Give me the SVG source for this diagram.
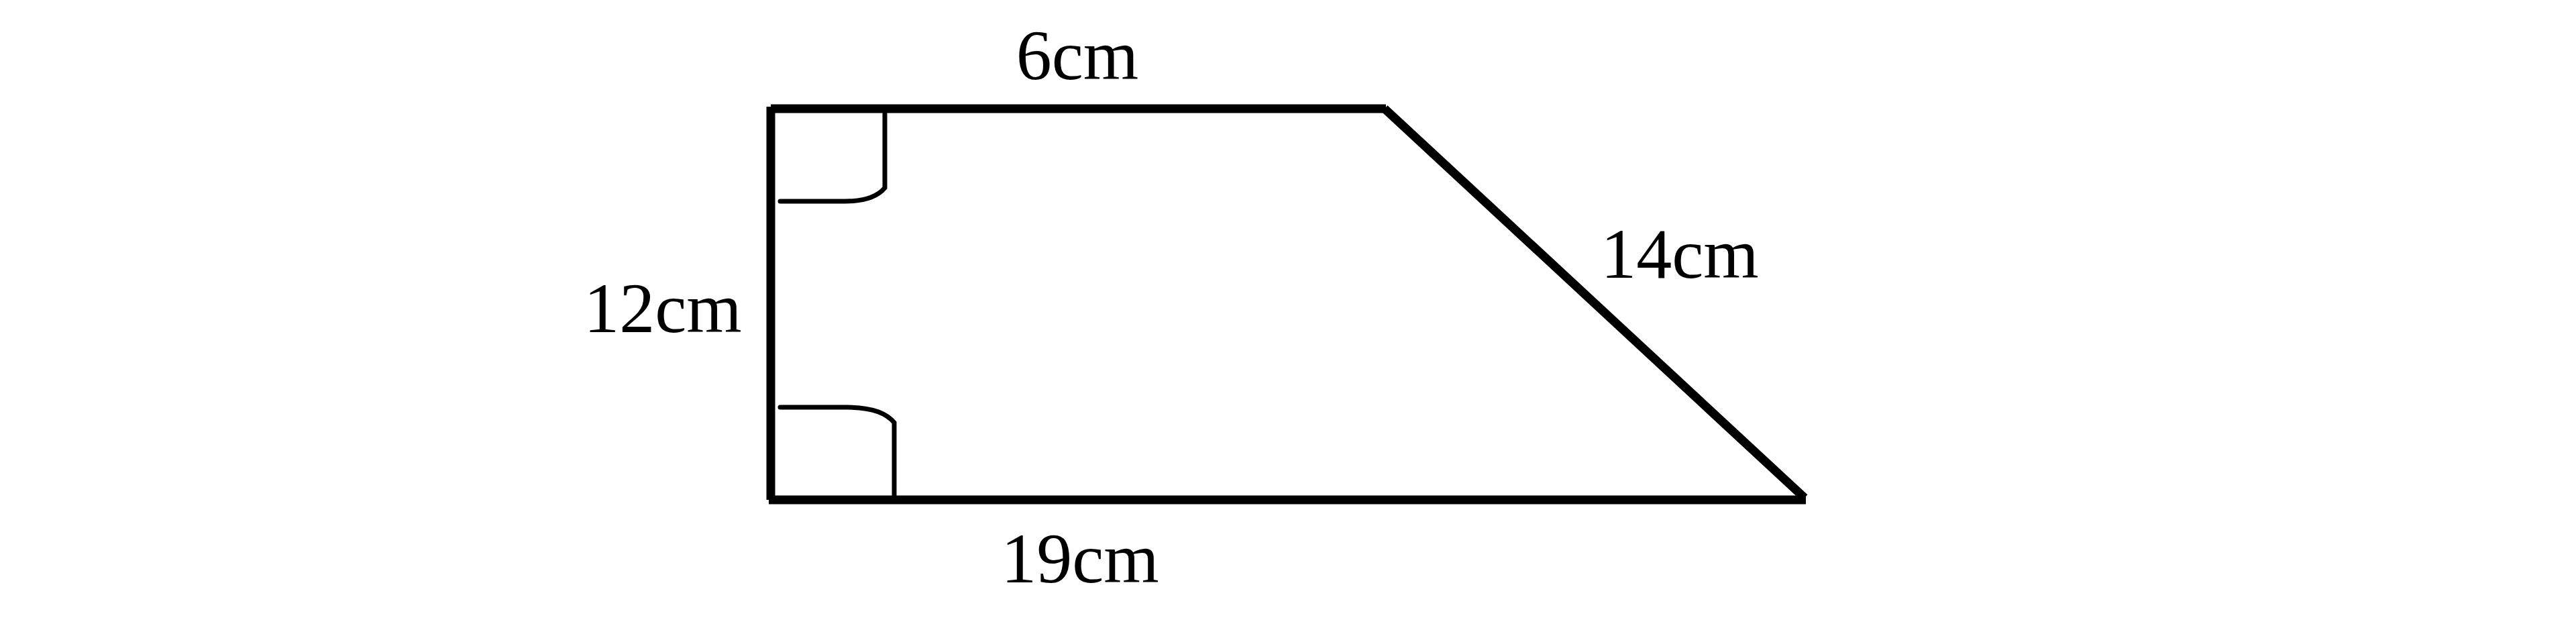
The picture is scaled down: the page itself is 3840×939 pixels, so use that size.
<svg xmlns="http://www.w3.org/2000/svg" width="3840" height="939" viewBox="0 0 3840 939">
<style>
.edge{stroke:#000;stroke-width:13;fill:none;stroke-linecap:butt}
.mark{stroke:#000;stroke-width:7;fill:none;stroke-linecap:round}
.lbl{font-family:"Liberation Serif","DejaVu Serif",serif;font-size:106px;fill:#000;text-anchor:middle}
</style>
<rect width="3840" height="939" fill="#fff"/>
<g id="shape">
<line class="edge" x1="1149" y1="162" x2="2066" y2="162"/>
<line class="edge" x1="1149" y1="159" x2="1149" y2="745"/>
<line class="edge" x1="1146" y1="745" x2="2692" y2="745"/>
<line class="edge" x1="2064" y1="162" x2="2690" y2="742"/>
</g>
<g id="right-angle-top">
<path class="mark" d="M1319,169 L1319,280 Q1302,300 1260,300 L1163,300"/>
</g>
<g id="right-angle-bottom">
<path class="mark" d="M1333,738 L1333,630 Q1315,607 1262,607 L1163,607"/>
</g>
<g id="labels">
<text class="lbl" x="1606" y="118">6cm</text>
<text class="lbl" x="988" y="495">12cm</text>
<text class="lbl" x="2504" y="414">14cm</text>
<text class="lbl" x="1610" y="868">19cm</text>
</g>
</svg>
